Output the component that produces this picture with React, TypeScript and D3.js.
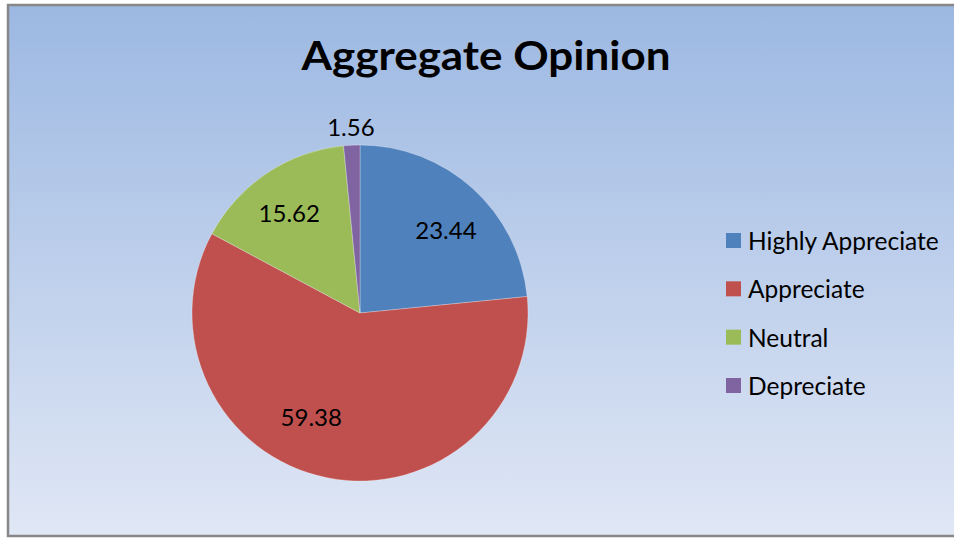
import React, { useEffect } from "react";
import * as d3 from "d3";

const categories = ["Highly Appreciate", "Appreciate", "Neutral", "Depreciate"];
const values = [23.44, 59.38, 15.62, 1.56];
const colors = ["#4F81BD", "#C0504D", "#9BBB59", "#8064A2"];
const title = "Aggregate Opinion";

// layout-only: label placement tweaks (degrees, radius factor)
const labelAngleShift = [3.5, 14, -1.5, 0];
const labelRadiusFactor = [0.715, 0.68, 0.73, 1.11];

const W = 954;
const H = 538;
const cx = 360;
const cy = 313;
const R = 168;

export default function App() {
  useEffect(() => {
    document.body.style.margin = "0";
    document.body.style.overflow = "hidden";
  }, []);

  const pie = d3.pie<number>().sort(null).value((d) => d);
  const arcs = pie(values);
  const arc = d3.arc<d3.PieArcDatum<number>>().innerRadius(0).outerRadius(R);

  const legendY = d3.scalePoint<string>().domain(categories).range([240.5, 385.5]);

  return (
    <svg
      width={W}
      height={H}
      style={{ position: "absolute", left: 0, top: 0, display: "block", fontFamily: "Lato, 'Open Sans', sans-serif" }}
    >
      <defs>
        <linearGradient id="bg" x1="0" y1="0" x2="0" y2="1">
          <stop offset="0" stopColor="#9CB8E2" />
          <stop offset="1" stopColor="#E0E7F5" />
        </linearGradient>
      </defs>
      <rect x={0} y={0} width={W} height={H} fill="#ffffff" />
      <rect x={8} y={5} width={W + 10} height={531} fill="url(#bg)" stroke="#878787" strokeWidth={2.5} />
      <text
        x={486}
        y={70}
        textAnchor="middle"
        fontSize={40}
        fontWeight="bold"
        fill="#000"
        textLength={369}
        lengthAdjust="spacingAndGlyphs"
      >
        {title}
      </text>
      <g transform={`translate(${cx},${cy})`}>
        {arcs.map((a, i) => (
          <path key={i} d={arc(a) || ""} fill={colors[i]} stroke="#ffffff" strokeOpacity={0.35} strokeWidth={0.8} />
        ))}
        {arcs.map((a, i) => {
          const mid = (a.startAngle + a.endAngle) / 2 + (labelAngleShift[i] * Math.PI) / 180;
          const r = R * labelRadiusFactor[i];
          const x = r * Math.sin(mid);
          const y = -r * Math.cos(mid);
          return (
            <text key={i} x={x} y={y} textAnchor="middle" dominantBaseline="central" fontSize={24} fill="#000">
              {values[i].toFixed(2)}
            </text>
          );
        })}
      </g>
      {categories.map((c, i) => (
        <g key={c} transform={`translate(726,${legendY(c)})`}>
          <rect x={0} y={-7.5} width={15} height={15} fill={colors[i]} />
          <text x={22} y={0} dominantBaseline="central" fontSize={24.5} fill="#000">
            {c}
          </text>
        </g>
      ))}
    </svg>
  );
}
